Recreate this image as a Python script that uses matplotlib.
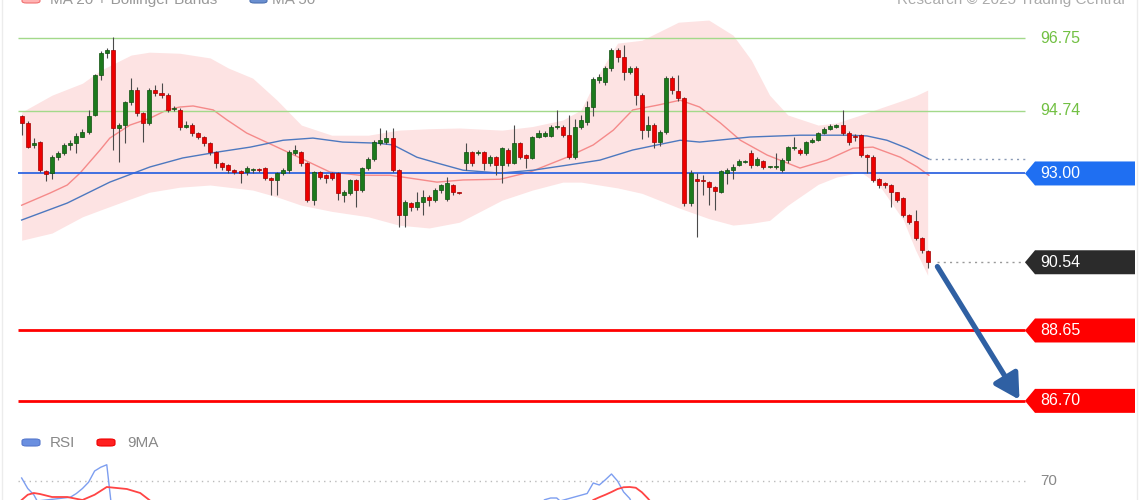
import matplotlib
matplotlib.use('Agg')
import matplotlib.pyplot as plt
import matplotlib.transforms as mtransforms
from matplotlib.patches import Polygon, FancyBboxPatch
from matplotlib.lines import Line2D

plt.rcParams['font.family'] = ['Liberation Sans', 'DejaVu Sans']

# ---------------- data ----------------
opens = [94.59, 94.40, 93.80, 93.87, 93.07, 93.01, 93.45, 93.56, 93.80, 93.84,
         94.01, 94.15, 94.62, 95.73, 96.33, 96.42, 94.26, 94.34, 94.98, 95.31,
         94.67, 94.40, 95.31, 95.23, 95.17, 94.78, 94.76, 94.30, 94.34, 94.12,
         94.01, 93.84, 93.59, 93.29, 93.23, 93.09, 93.06, 93.04, 93.09, 93.10,
         93.15, 92.87, 92.82, 93.01, 93.09, 93.56, 93.59, 93.29, 92.26, 93.04,
         92.95, 93.01, 93.01, 92.40, 92.46, 92.82, 92.54, 93.15, 93.40, 93.84,
         93.87, 93.98, 93.09, 91.85, 92.18, 92.07, 92.21, 92.35, 92.26, 92.54,
         92.30, 92.68, 92.46, 93.29, 93.59, 93.56, 93.59, 93.29, 93.45, 93.23,
         93.65, 93.29, 93.84, 93.51, 93.43, 94.01, 94.04, 94.04, 94.28, 94.28,
         94.06, 93.45, 94.28, 94.42, 94.84, 95.59, 95.53, 95.92, 96.42, 96.22,
         95.81, 95.92, 95.17, 94.20, 94.34, 93.87, 94.15, 95.64, 95.28, 95.09,
         92.18, 92.82, 92.80, 92.76, 92.62, 92.48, 93.01, 93.09, 93.23, 93.32,
         93.56, 93.23, 93.34, 93.18, 93.18, 93.09, 93.37, 93.70, 93.65, 93.56,
         93.87, 93.92, 94.12, 94.23, 94.28, 94.34, 94.12, 94.02, 94.06, 93.51,
         93.45, 92.84, 92.73, 92.68, 92.48, 92.32, 91.85, 91.68, 91.21, 90.85]
highs = [94.62, 94.45, 93.98, 93.90, 93.10, 93.50, 93.62, 93.84, 93.92, 94.12,
         94.23, 94.76, 95.75, 96.40, 96.48, 96.78, 94.40, 95.00, 95.64, 95.40,
         94.70, 95.36, 95.45, 95.50, 95.22, 94.86, 94.80, 94.45, 94.40, 94.15,
         94.05, 93.87, 93.62, 93.32, 93.26, 93.12, 93.10, 93.20, 93.15, 93.14,
         93.18, 92.90, 93.05, 93.15, 93.65, 93.78, 93.62, 93.32, 93.07, 93.07,
         92.99, 93.05, 93.04, 92.55, 92.86, 92.86, 93.18, 93.45, 93.92, 94.26,
         94.20, 94.26, 93.12, 92.26, 92.22, 92.50, 92.55, 92.40, 92.60, 92.72,
         92.90, 92.72, 92.48, 93.84, 93.62, 93.65, 93.62, 93.50, 93.48, 93.73,
         93.70, 94.34, 93.87, 93.55, 94.05, 94.20, 94.18, 94.34, 94.76, 94.34,
         94.62, 94.50, 94.62, 95.00, 95.67, 95.75, 95.98, 96.48, 96.48, 96.56,
         95.98, 95.98, 95.22, 94.60, 94.40, 94.20, 95.70, 95.70, 95.73, 95.12,
         93.10, 93.00, 92.95, 92.80, 92.66, 93.10, 93.15, 93.25, 93.40, 93.36,
         93.65, 93.45, 93.37, 93.22, 93.56, 93.42, 93.76, 94.01, 93.70, 93.90,
         93.98, 94.15, 94.28, 94.36, 94.38, 94.76, 94.18, 94.10, 94.10, 93.55,
         93.50, 92.87, 92.76, 92.72, 92.50, 92.35, 91.88, 91.99, 91.25, 90.88]
lows = [94.06, 93.70, 93.70, 93.05, 92.80, 92.85, 93.38, 93.50, 93.65, 93.56,
        94.00, 94.10, 94.60, 95.60, 96.20, 93.65, 93.32, 93.84, 94.90, 94.60,
        93.87, 94.35, 95.15, 95.10, 94.70, 94.74, 94.20, 94.25, 94.05, 93.95,
        93.75, 93.50, 93.15, 93.10, 93.00, 92.98, 92.73, 92.95, 93.02, 93.03,
        92.82, 92.40, 92.40, 92.95, 93.00, 93.50, 93.20, 92.22, 92.12, 92.85,
        92.73, 92.82, 92.26, 92.21, 92.40, 92.07, 92.50, 93.10, 93.35, 93.80,
        93.82, 93.05, 91.51, 91.51, 91.95, 91.99, 91.85, 92.10, 92.20, 92.45,
        92.25, 92.40, 92.42, 93.10, 93.20, 93.50, 93.10, 93.20, 92.95, 92.73,
        93.20, 93.25, 93.40, 93.15, 93.40, 93.98, 94.00, 94.00, 94.22, 94.00,
        93.40, 93.40, 94.22, 94.35, 94.60, 95.50, 95.45, 95.85, 96.10, 95.60,
        95.75, 94.90, 93.95, 94.00, 93.70, 93.75, 94.10, 95.20, 95.00, 92.10,
        92.10, 91.24, 92.40, 92.12, 91.99, 92.45, 92.70, 92.85, 93.20, 93.29,
        93.15, 93.20, 93.12, 93.15, 93.12, 93.04, 93.30, 93.65, 93.50, 93.50,
        93.84, 93.90, 94.10, 94.20, 94.25, 94.06, 93.80, 93.90, 93.45, 93.01,
        92.76, 92.60, 92.60, 92.07, 92.20, 91.80, 91.60, 91.15, 90.80, 90.38]
closes = [94.40, 93.73, 93.84, 93.09, 92.98, 93.45, 93.56, 93.79, 93.84, 94.04,
          94.15, 94.59, 95.73, 96.33, 96.42, 94.26, 94.34, 94.98, 95.31, 94.67,
          94.40, 95.31, 95.23, 95.17, 94.76, 94.81, 94.28, 94.34, 94.12, 94.01,
          93.84, 93.59, 93.29, 93.18, 93.09, 93.04, 93.01, 93.15, 93.10, 93.09,
          92.87, 92.82, 93.01, 93.09, 93.59, 93.65, 93.29, 92.26, 93.04, 92.90,
          92.87, 92.87, 92.46, 92.48, 92.82, 92.54, 93.15, 93.40, 93.87, 93.92,
          93.98, 93.09, 91.85, 92.21, 92.07, 92.21, 92.35, 92.26, 92.54, 92.68,
          92.73, 92.48, 92.45, 93.59, 93.29, 93.59, 93.29, 93.45, 93.23, 93.70,
          93.29, 93.84, 93.45, 93.43, 94.01, 94.12, 94.12, 94.28, 94.30, 94.06,
          93.45, 94.28, 94.48, 94.84, 95.61, 95.67, 95.92, 96.42, 96.22, 95.81,
          95.92, 95.17, 94.20, 94.34, 93.87, 94.15, 95.64, 95.31, 95.09, 92.18,
          93.01, 92.80, 92.78, 92.62, 92.51, 93.07, 93.09, 93.18, 93.34, 93.33,
          93.23, 93.40, 93.18, 93.19, 93.19, 93.37, 93.73, 93.71, 93.56, 93.87,
          93.92, 94.12, 94.23, 94.31, 94.34, 94.12, 93.87, 94.01, 93.51, 93.46,
          92.82, 92.68, 92.68, 92.48, 92.26, 91.85, 91.65, 91.21, 90.88, 90.54]

ma20_idx = [0, 4.7, 7.5, 9.6, 12.9, 14.5, 17.8, 21.1, 23.9, 26, 28.2, 31.5, 33.8, 37,
            42, 45.8, 50.7, 55.6, 60.6, 63.9, 68.3, 72.6, 78.7, 83.6, 89.7, 94, 97.3,
            100.5, 104.5, 108.3, 111.5, 114.9, 118.2, 122.6, 128, 132.4, 136.7, 140,
            144.5, 147.3, 149.2]
ma20_val = [92.12, 92.46, 92.68, 93.01, 93.65, 93.98, 94.34, 94.53, 94.76, 94.84, 94.87,
            94.76, 94.48, 94.12, 93.73, 93.43, 93.04, 92.95, 92.95, 92.87, 92.76, 92.82,
            92.84, 93.04, 93.45, 93.79, 94.20, 94.76, 94.89, 95.03, 94.84, 94.40, 93.92,
            93.51, 93.15, 93.37, 93.70, 93.73, 93.45, 93.18, 92.95]

ma50_idx = [0, 7.5, 14.5, 21.1, 26.5, 32.1, 37.6, 43, 47.9, 52.8, 58.4, 61.1, 65, 68.3,
            72.6, 78.7, 84.1, 89.7, 95.1, 100.5, 104.5, 108.3, 111.5, 119.8, 128, 136.2,
            139, 142.3, 145.6, 149.2]
ma50_val = [91.71, 92.18, 92.76, 93.18, 93.43, 93.59, 93.73, 93.92, 93.98, 93.87, 93.84,
            93.79, 93.45, 93.29, 93.09, 93.01, 93.09, 93.23, 93.37, 93.65, 93.79, 93.92,
            93.87, 94.01, 94.06, 94.06, 94.04, 93.92, 93.70, 93.40]

bb_idx = [0, 5, 10, 13, 18, 21, 26, 31, 34, 38, 42, 46, 51, 57, 62, 67, 72, 79, 84, 89,
          92, 95, 98, 102, 108, 113, 117, 120, 123, 126, 131, 134, 138, 141, 145, 147, 149]
bb_upper = [94.70, 95.17, 95.50, 95.86, 96.28, 96.36, 96.33, 96.20, 95.92, 95.64, 95.03,
            94.34, 94.06, 94.06, 94.20, 94.24, 94.26, 94.20, 94.30, 94.48, 94.76, 95.78,
            96.61, 96.69, 97.19, 97.25, 96.83, 96.14, 95.17, 94.62, 94.34, 94.40, 94.62,
            94.80, 95.03, 95.15, 95.31]
bb_lower = [91.15, 91.35, 91.80, 91.99, 92.30, 92.48, 92.62, 92.68, 92.62, 92.54, 92.35,
            92.12, 91.95, 91.80, 91.57, 91.49, 91.65, 92.26, 92.54, 92.76, 92.76, 92.68,
            92.60, 92.45, 92.05, 91.75, 91.57, 91.62, 91.70, 92.12, 92.70, 92.90, 93.04,
            92.68, 91.71, 90.88, 90.18]

# RSI panel (only the part above the crop is visible)
rsi1_idx = [0, 1, 2, 3, 4, 5, 6, 7, 8, 9, 10, 11, 12, 13, 14, 15]
rsi1_val = [71.2, 67.0, 64.5, 60.0, 57.0, 58.0, 60.0, 62.0, 63.5, 65.0, 67.0, 69.5,
            74.0, 75.5, 76.5, 55.0]
rsi2_idx = [85, 86, 87, 88, 89, 90, 91, 92, 93, 94, 95, 96, 97, 98, 99, 100, 101, 102]
rsi2_val = [60.0, 62.5, 63.2, 63.2, 61.0, 57.0, 61.0, 62.0, 65.0, 69.2, 68.4, 70.5,
            72.8, 70.0, 65.6, 63.0, 58.0, 50.0]
ma9_1_idx = [0, 1, 2, 3, 5, 7.5, 10, 12, 14, 17.3, 19.5, 21, 23]
ma9_1_val = [62.4, 64.5, 65.2, 64.8, 63.6, 63.6, 62.4, 64.5, 67.6, 66.8, 65.2, 62.4, 58.0]
ma9_2_idx = [93, 94, 95, 96, 97, 98, 99, 100, 101, 102, 103, 104]
ma9_2_val = [60.0, 62.4, 63.5, 64.5, 65.6, 66.8, 67.5, 67.6, 67.3, 65.5, 63.0, 60.0]

level_green = [96.75, 94.74]
level_pivot = 93.00
level_last = 90.54
level_red = [88.65, 86.70]
rsi_level = 70

# ---------------- figure ----------------
W, H = 1140, 500
fig = plt.figure(figsize=(W / 100, H / 100), dpi=100)
fig.patch.set_facecolor('white')

def fx(px):
    return px / W

def fy(py):
    return 1 - py / H

L_, R_, T_, B_ = 18, 1028, 15, 420
ax = fig.add_axes([fx(L_), fy(B_), (R_ - L_) / W, (B_ - T_) / H])
ax.set_xlim(-0.6, 165.5)
ax.set_ylim(86.17, 97.39)
ax.axis('off')

x_end = 165.0
n = len(closes)
idx = list(range(n))

# Bollinger band + moving averages
ax.fill_between(bb_idx, bb_lower, bb_upper, color='#fde3e3', lw=0, zorder=1)
ax.plot(ma20_idx, ma20_val, color='#f58a8a', lw=1.0, zorder=2)
ax.plot(ma50_idx, ma50_val, color='#4d78bf', lw=1.0, zorder=2)
ax.hlines(ma50_val[-1], ma50_idx[-1], x_end, colors='#8a9ab5', lw=1.0,
          linestyles=(0, (1.5, 3)), zorder=2)

# horizontal levels
for lv in level_green:
    ax.hlines(lv, -0.6, x_end, colors='#a3d98a', lw=1.0, zorder=2)
ax.hlines(level_pivot, -0.6, x_end, colors='#3166e0', lw=1.3, zorder=2)
for lv in level_red:
    ax.hlines(lv, -0.6, x_end, colors='#ff0000', lw=2.0, zorder=2)
ax.hlines(level_last, 150.6, x_end, colors='#999999', lw=1.0,
          linestyles=(0, (1.5, 3)), zorder=2)

# candles
for i in idx:
    o, h, l, c = opens[i], highs[i], lows[i], closes[i]
    up = c >= o
    fc = '#1c7a1c' if up else '#ee0000'
    ec = '#0f4f0f' if up else '#a00000'
    ax.vlines(i, l, h, colors='#4a4a4a', lw=0.8, zorder=3)
    bottom = min(o, c)
    height = max(abs(c - o), 0.035)
    ax.bar(i, height, bottom=bottom, width=0.66, color=fc, edgecolor=ec,
           linewidth=0.5, zorder=4)

# arrow
ax.annotate('', xy=(164.1, level_red[1] + 0.03), xytext=(150.6, level_last - 0.12),
            arrowprops=dict(arrowstyle='-|>,head_length=0.75,head_width=0.42',
                            lw=3.8, color='#2f60a3', mutation_scale=20,
                            shrinkA=0, shrinkB=0), zorder=6)

# right-side labels
bt = mtransforms.blended_transform_factory(ax.transAxes, ax.transData)
x_tip = (1025 - L_) / (R_ - L_)
x_sh = (1035 - L_) / (R_ - L_)
x_rt = (1135 - L_) / (R_ - L_)
x_tx = (1040 - L_) / (R_ - L_)
hh = 12 / 36.1

def tag(val, color):
    poly = Polygon([(x_tip, val), (x_sh, val + hh), (x_rt, val + hh),
                    (x_rt, val - hh), (x_sh, val - hh)], closed=True,
                   facecolor=color, edgecolor='none', transform=bt, clip_on=False,
                   zorder=7)
    ax.add_patch(poly)
    ax.text(x_tx, val, f'{val:.2f}', transform=bt, color='white', fontsize=11.5,
            va='center', ha='left', clip_on=False, zorder=8)

for lv in level_green:
    ax.text(x_tx, lv, f'{lv:.2f}', transform=bt, color='#72c043', fontsize=11.5,
            va='center', ha='left', clip_on=False)
tag(level_pivot, '#1f6ff2')
tag(level_last, '#2b2b2b')
for lv in level_red:
    tag(lv, '#ff0000')

# top legend (cropped at the top edge, as in the reference)
def swatch(x0, x1, y0, y1, fc, ec):
    p = FancyBboxPatch((fx(x0), fy(y1)), fx(x1) - fx(x0), fy(y0) - fy(y1),
                       boxstyle='round,pad=0,rounding_size=0.004',
                       facecolor=fc, edgecolor=ec, lw=0.8,
                       transform=fig.transFigure)
    fig.add_artist(p)

swatch(22, 40, -6, 3, '#ffb3b3', '#f07070')
fig.text(fx(50), fy(4), 'MA 20 + Bollinger Bands', fontsize=11, color='#999999',
         va='baseline', ha='left')
swatch(250, 267, -6, 3, '#6a8fd0', '#4a6fb0')
fig.text(fx(272), fy(4), 'MA 50', fontsize=11, color='#999999',
         va='baseline', ha='left')
fig.text(fx(1125), fy(4), 'Research \u00a9 2025 Trading Central', fontsize=11,
         color='#aaaaaa', va='baseline', ha='right')

# RSI panel (extends below the crop)
ax2 = fig.add_axes([fx(L_), fy(650), (R_ - L_) / W, 200 / H])
ax2.set_xlim(-0.6, 165.5)
ax2.set_ylim(2.4, 82.4)
ax2.axis('off')
ax2.hlines(rsi_level, -0.6, x_end, colors='#bbbbbb', lw=1.0,
           linestyles=(0, (1, 3)))
ax2.plot(rsi1_idx, rsi1_val, color='#7d9ef0', lw=1.0)
ax2.plot(rsi2_idx, rsi2_val, color='#7d9ef0', lw=1.0)
ax2.plot(ma9_1_idx, ma9_1_val, color='#ff4444', lw=1.3)
ax2.plot(ma9_2_idx, ma9_2_val, color='#ff4444', lw=1.3)
ax2.text(x_tx, rsi_level, f'{rsi_level}', transform=mtransforms.blended_transform_factory(
    ax2.transAxes, ax2.transData), color='#888888', fontsize=11, va='center',
    ha='left', clip_on=False)

swatch(22, 40, 439, 446, '#6a8fe0', '#5577cc')
fig.text(fx(50), fy(443), 'RSI', fontsize=11, color='#888888', va='center', ha='left')
swatch(97, 115, 439, 446, '#ff2020', '#ee0000')
fig.text(fx(127), fy(443), '9MA', fontsize=11, color='#888888', va='center', ha='left')

# frame lines
fig.add_artist(Line2D([fx(2), fx(2)], [0, 1], color='#ececec', lw=1.0,
                      transform=fig.transFigure))
fig.add_artist(Line2D([fx(1137), fx(1137)], [0, 1], color='#ececec', lw=1.0,
                      transform=fig.transFigure))

fig.savefig('out.png', dpi=100, facecolor='white')
